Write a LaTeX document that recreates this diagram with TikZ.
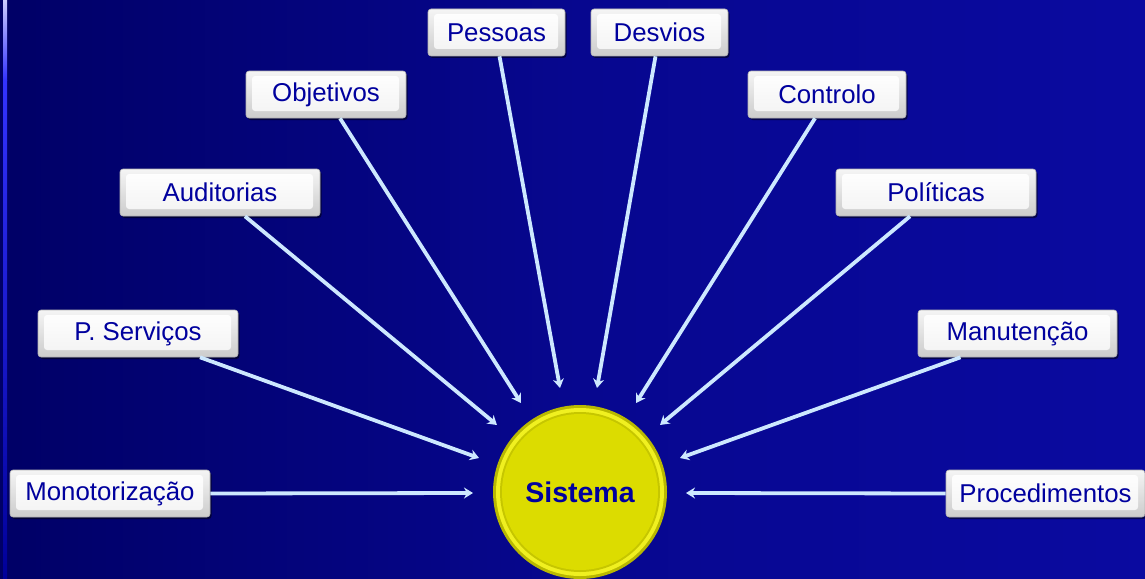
\documentclass[tikz,border=0pt]{standalone}
\usepackage{fontspec}
\setmainfont{Liberation Sans}
\usetikzlibrary{arrows.meta,shadows}
\definecolor{bgdark}{HTML}{000066}
\definecolor{bglight}{HTML}{0A0AA0}
\definecolor{txtblue}{HTML}{00009E}
\definecolor{arrowc}{HTML}{CDE8FF}
\definecolor{yel}{HTML}{DCDC00}
\definecolor{yelhi}{HTML}{F0F020}
\definecolor{yeldk}{HTML}{B8B800}
\tikzset{
  box/.style={draw=gray!60, line width=0.6pt, rounded corners=3pt, minimum height=47pt,
    top color=gray!8, bottom color=gray!40, text=txtblue,
    font=\fontsize{25.8}{28}\selectfont, inner sep=0pt,
    drop shadow={shadow xshift=1.5pt, shadow yshift=-2pt, opacity=0.5, fill=black},
    path picture={\shade[top color=white, bottom color=gray!10]
      ([shift={(6pt,-5pt)}]path picture bounding box.north west) rectangle
      ([shift={(-7pt,7pt)}]path picture bounding box.south east);}},
  conn/.style={draw=arrowc, line width=3.8pt, -{Stealth[length=9pt,width=11pt]}}
}
\begin{document}
\begin{tikzpicture}[x=1pt,y=-1pt]
\useasboundingbox (0,0) rectangle (1145,578);
\shade[left color=bgdark, right color=bglight, middle color=bglight!70!bgdark] (0,0) rectangle (1145,578);
% left strip
\shade[top color=white!80!blue, bottom color=blue!80!white] (3,0) rectangle (7,80);
\shade[top color=blue!80!white, bottom color=blue!60!black] (3,80) rectangle (7,578);

% boxes
\node[box, minimum width=200pt] (mono) at (110,493.5) {Monotorização};
\node[box, minimum width=200pt] (pserv) at (138,333.5) {P. Serviços};
\node[box, minimum width=200pt] (audit) at (220,192.5) {Auditorias};
\node[box, minimum width=160pt] (obj) at (326,94.5) {Objetivos};
\node[box, minimum width=137pt] (pess) at (496.5,32.5) {Pessoas};
\node[box, minimum width=137pt] (desv) at (659.5,32.5) {Desvios};
\node[box, minimum width=158pt] (ctrl) at (827,94.5) {Controlo};
\node[box, minimum width=200pt] (pol) at (936,192.5) {Políticas};
\node[box, minimum width=199pt] (manu) at (1017.5,333.5) {Manutenção};
\node[box, minimum width=199pt] (proc) at (1045.5,493.5) {Procedimentos};

% central circle
\fill[yeldk] (580,492) circle (87);
\fill[yelhi] (580,492) circle (84);
\fill[yeldk!60!yel] (580,492) circle (80);
\fill[yel] (580,492) circle (78);
\node[circle, minimum size=174pt, inner sep=0pt, text=txtblue, font=\bfseries\fontsize{28.5}{30}\selectfont] (sys) at (580,492) {Sistema};

% endpoints near circle
\coordinate (eMono) at (473,493);
\coordinate (ePserv) at (479,458);
\coordinate (eAudit) at (497,425);
\coordinate (eObj) at (521,403);
\coordinate (ePess) at (560,388);
\coordinate (eDesv) at (597,388);
\coordinate (eCtrl) at (636,403);
\coordinate (ePol) at (660,425);
\coordinate (eManu) at (680,458);
\coordinate (eProc) at (686,493);

\draw[conn] (mono.east) -- (eMono);
\draw[conn] ([xshift=62pt]pserv.south) -- (ePserv);
\draw[conn] ([xshift=25pt]audit.south) -- (eAudit);
\draw[conn] ([xshift=14pt]obj.south) -- (eObj);
\draw[conn] ([xshift=3pt]pess.south) -- (ePess);
\draw[conn] ([xshift=-4pt]desv.south) -- (eDesv);
\draw[conn] ([xshift=-12pt]ctrl.south) -- (eCtrl);
\draw[conn] ([xshift=-26pt]pol.south) -- (ePol);
\draw[conn] ([xshift=-57pt]manu.south) -- (eManu);
\draw[conn] (proc.west) -- (eProc);
\end{tikzpicture}
\end{document}
